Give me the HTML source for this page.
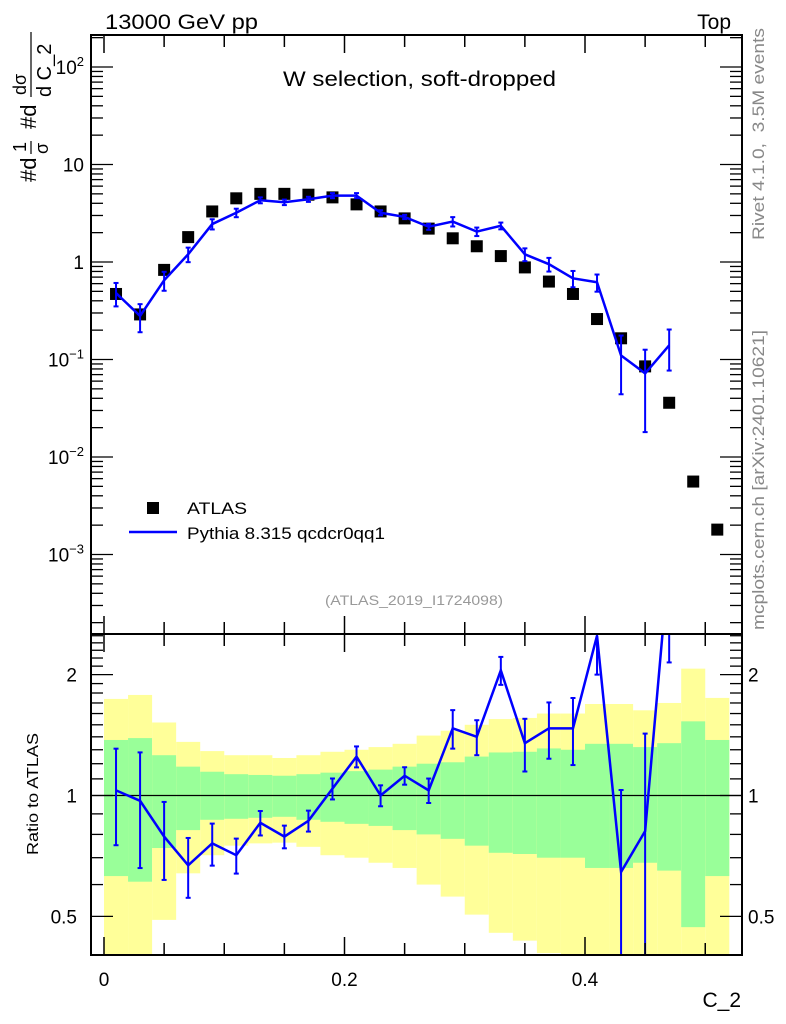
<!DOCTYPE html>
<html><head><meta charset="utf-8"><style>
html,body{margin:0;padding:0;background:#fff;}
svg{display:block;font-family:"Liberation Sans",sans-serif;}
</style></head><body>
<svg id="chart" width="786" height="1024" viewBox="0 0 786 1024">
<g id="ratio-bands"></g>
<g id="main"></g>
<g id="ratio"></g>
<g id="axes"></g>
<text x="105" y="29" font-size="21" textLength="153" lengthAdjust="spacingAndGlyphs">13000 GeV pp</text>
<text x="731" y="29" font-size="21" text-anchor="end">Top</text>
<text x="283" y="86" font-size="21" textLength="273" lengthAdjust="spacingAndGlyphs">W selection, soft-dropped</text>
<rect x="147" y="502" width="12" height="12" fill="#000"/>
<text x="187" y="514" font-size="17" textLength="60" lengthAdjust="spacingAndGlyphs">ATLAS</text>
<line x1="129" y1="532" x2="177" y2="532" stroke="#0000ff" stroke-width="2.5"/>
<text x="187" y="539" font-size="17" textLength="198" lengthAdjust="spacingAndGlyphs">Pythia 8.315 qcdcr0qq1</text>
<text x="325" y="605" font-size="14" fill="#999" textLength="178" lengthAdjust="spacingAndGlyphs">(ATLAS_2019_I1724098)</text>
<text transform="translate(764,240) rotate(-90)" font-size="17" fill="#888" textLength="212" lengthAdjust="spacingAndGlyphs" xml:space="preserve">Rivet 4.1.0,  3.5M events</text>
<text transform="translate(764,630) rotate(-90)" font-size="17" fill="#888" textLength="300" lengthAdjust="spacingAndGlyphs">mcplots.cern.ch [arXiv:2401.10621]</text>
<text transform="translate(38,855) rotate(-90)" font-size="16" textLength="122" lengthAdjust="spacingAndGlyphs">Ratio to ATLAS</text>
<g transform="translate(36,182) rotate(-90)">
<text x="0" y="0" font-size="22">#d</text>
<text x="30" y="-10" font-size="18">1</text>
<line x1="28" y1="-5" x2="41" y2="-5" stroke="#000" stroke-width="1.2"/>
<text x="28" y="12" font-size="18">σ</text>
<text x="53" y="0" font-size="22">#d</text>
<text x="87" y="-10" font-size="18">dσ</text>
<line x1="85" y1="-5" x2="150" y2="-5" stroke="#000" stroke-width="1.2"/>
<text x="85" y="15" font-size="20">d C_2</text>
</g>
<text x="741" y="1007" font-size="21" text-anchor="end">C_2</text>
</svg>
<script>
const xCenters=[0.01,0.03,0.05,0.07,0.09,0.11,0.13,0.15,0.17,0.19,0.21,0.23,0.25,0.27,0.29,0.31,0.33,0.35,0.37,0.39,0.41,0.43,0.45,0.47,0.49,0.51];
const atlasValues=[0.47,0.29,0.83,1.8,3.3,4.5,5.0,5.0,4.9,4.6,3.9,3.3,2.8,2.2,1.75,1.45,1.15,0.88,0.63,0.47,0.26,0.165,0.085,0.036,0.0056,0.0018];
const pythiaValues=[0.48,0.28,0.65,1.2,2.45,3.2,4.3,4.1,4.4,4.8,4.8,3.2,2.9,2.3,2.6,2.05,2.35,1.2,0.95,0.68,0.62,0.11,0.072,0.14];
const pythiaRelErr=[0.27,0.32,0.22,0.17,0.12,0.1,0.07,0.065,0.06,0.06,0.06,0.06,0.05,0.07,0.11,0.10,0.08,0.15,0.16,0.19,0.2,0.6,0.75,0.45];
const ratioValues=[1.03,0.97,0.79,0.67,0.76,0.71,0.855,0.79,0.865,1.04,1.25,1.0,1.12,1.03,1.47,1.40,2.05,1.35,1.47,1.47,2.5,0.645,0.815,3.9];
const yellowTop=[1.74,1.78,1.52,1.36,1.29,1.26,1.26,1.24,1.26,1.285,1.3,1.32,1.345,1.41,1.45,1.5,1.55,1.56,1.6,1.6,1.69,1.69,1.63,1.7,2.07,1.75];
const yellowBot=[0.3,0.3,0.49,0.64,0.71,0.75,0.76,0.763,0.745,0.71,0.70,0.68,0.66,0.60,0.56,0.505,0.455,0.435,0.405,0.395,0.3,0.3,0.3,0.3,0.3,0.3];
const greenTop=[1.375,1.39,1.26,1.18,1.146,1.13,1.125,1.12,1.13,1.14,1.15,1.16,1.18,1.2,1.21,1.25,1.28,1.285,1.31,1.3,1.345,1.345,1.32,1.35,1.53,1.375];
const greenBot=[0.63,0.61,0.74,0.82,0.87,0.875,0.88,0.885,0.87,0.86,0.85,0.84,0.82,0.80,0.78,0.75,0.72,0.715,0.70,0.70,0.66,0.66,0.68,0.65,0.47,0.63];
const binWidth=0.02;
const xTickLabels=["0","0.2","0.4"];
const xTickValues=[0,0.2,0.4];
const yTickExp=[2,1,0,-1,-2,-3];
const ratioTickValues=[0.5,1,2];
const ratioTickLabels=["0.5","1","2"];

const NS="http://www.w3.org/2000/svg";
const L=91,R=742,T=35,M=634,B=955;
const X=v=>104+v*1202.5;
const Y=v=>262-97.5*Math.log10(v);
const RY=v=>795.5-401.5*Math.log10(v);
const clampR=y=>Math.max(M,Math.min(B,y));
function mk(tag,attrs,parent){const e=document.createElementNS(NS,tag);for(const k in attrs)e.setAttribute(k,attrs[k]);parent.appendChild(e);return e;}
const bands=document.getElementById('ratio-bands'),main=document.getElementById('main'),ratio=document.getElementById('ratio'),axes=document.getElementById('axes');

xCenters.forEach((c,i)=>{
  const x0=X(c-binWidth/2),x1=X(c+binWidth/2);
  let y0=clampR(RY(yellowTop[i])),y1=clampR(RY(yellowBot[i]));
  const yb=mk('rect',{x:x0,y:y0,width:x1-x0,height:y1-y0,fill:'#ffff99'},bands);
  
  
  y0=clampR(RY(greenTop[i]));y1=clampR(RY(greenBot[i]));
  const gb=mk('rect',{x:x0,y:y0,width:x1-x0,height:y1-y0,fill:'#99ff99'},bands);
  
  
});
const ref=mk('line',{x1:L,x2:R,y1:RY(1),y2:RY(1),stroke:'#000','stroke-width':1.2},bands);



xCenters.forEach((c,i)=>{
  const r=mk('rect',{x:X(c)-6,y:Y(atlasValues[i])-6,width:12,height:12,fill:'#000'},main);
  
  
});
let pts=pythiaValues.map((v,i)=>X(xCenters[i])+','+Y(v)).join(' ');
const pl=mk('polyline',{points:pts,fill:'none',stroke:'#0000ff','stroke-width':2.5},main);


pythiaValues.forEach((v,i)=>{
  const x=X(xCenters[i]);const lo=Math.max(v*(1-pythiaRelErr[i]),1e-4);
  const ya=Y(v*(1+pythiaRelErr[i])),yb=Math.min(Y(lo),M);
  const g=mk('g',{stroke:'#0000ff','stroke-width':2},main);
  
  
  mk('line',{x1:x,x2:x,y1:ya,y2:yb},g);
  mk('line',{x1:x-2.5,x2:x+2.5,y1:ya,y2:ya},g);
  mk('line',{x1:x-2.5,x2:x+2.5,y1:yb,y2:yb},g);
});

const cp=mk('clipPath',{id:'rclip'},ratio);
mk('rect',{x:L,y:M,width:R-L,height:B-M},cp);
const rg=mk('g',{'clip-path':'url(#rclip)'},ratio);
pts=ratioValues.map((v,i)=>X(xCenters[i])+','+RY(v)).join(' ');
const rl=mk('polyline',{points:pts,fill:'none',stroke:'#0000ff','stroke-width':2.5},rg);


ratioValues.forEach((v,i)=>{
  const x=X(xCenters[i]);const lo=Math.max(v*(1-pythiaRelErr[i]),0.01);
  const ya=RY(v*(1+pythiaRelErr[i])),yb=RY(lo);
  const g=mk('g',{stroke:'#0000ff','stroke-width':2},rg);
  
  
  mk('line',{x1:x,x2:x,y1:ya,y2:yb},g);
  mk('line',{x1:x-2.5,x2:x+2.5,y1:ya,y2:ya},g);
  mk('line',{x1:x-2.5,x2:x+2.5,y1:yb,y2:yb},g);
});

[[T,M],[M,B]].forEach(([a,b])=>{
  const f=mk('rect',{x:L,y:a,width:R-L,height:b-a,fill:'none',stroke:'#000','stroke-width':2},axes);
  
  
});
for(let k=0;k<=10;k++){const v=k*0.05;const x=X(v);if(x>R)break;const major=(k%4===0);const len=major?18:12;
  [[T,1],[M,-1],[M,1],[B,-1]].forEach(([y,d])=>mk('line',{x1:x,x2:x,y1:y,y2:y+d*len,stroke:'#000','stroke-width':1.5},axes));}
xTickValues.forEach((v,i)=>{const t=mk('text',{x:X(v),y:986,'font-size':19,'text-anchor':'middle'},axes);t.textContent=xTickLabels[i];
  });
for(let e=-4;e<=2;e++){for(let m=1;m<10;m++){const v=m*Math.pow(10,e);const y=Y(v);if(y<T||y>M)continue;const len=m===1?22:12;
  mk('line',{x1:L,x2:L+len,y1:y,y2:y,stroke:'#000','stroke-width':1.3},axes);
  mk('line',{x1:R,x2:R-len,y1:y,y2:y,stroke:'#000','stroke-width':1.3},axes);}}
yTickExp.forEach(e=>{const y=Y(Math.pow(10,e));const t=mk('text',{x:84,y:y+7,'font-size':19,'text-anchor':'end'},axes);
  
  if(e===0)t.textContent='1';else if(e===1)t.textContent='10';else{t.textContent='10';const s=mk('tspan',{dy:-8,'font-size':13},t);s.textContent=String(e).replace('-','−');}});
for(let k=4;k<=25;k++){const v=k/10;const y=RY(v);if(y<M||y>B)continue;const major=(v===0.5||v===1||v===2);const len=major?22:12;
  mk('line',{x1:L,x2:L+len,y1:y,y2:y,stroke:'#000','stroke-width':1.3},axes);
  mk('line',{x1:R,x2:R-len,y1:y,y2:y,stroke:'#000','stroke-width':1.3},axes);}
ratioTickValues.forEach((v,i)=>{const y=RY(v)+7;
  let t=mk('text',{x:77,y:y,'font-size':19,'text-anchor':'end'},axes);t.textContent=ratioTickLabels[i];
  
  t=mk('text',{x:748,y:y,'font-size':19},axes);t.textContent=ratioTickLabels[i];
  });
</script>
</body></html>
